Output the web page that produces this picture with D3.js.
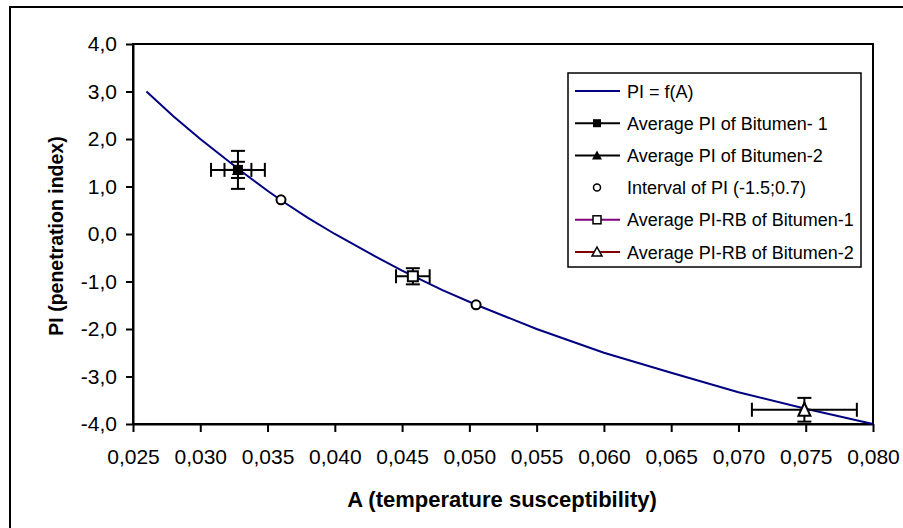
<!DOCTYPE html>
<html><head><meta charset="utf-8">
<script src="https://cdn.jsdelivr.net/npm/d3@7"></script>
<style>
body{margin:0;background:#fff;}
text{font-family:"Liberation Sans",Arial,sans-serif;}
</style></head>
<body><svg id="c" width="903" height="528"></svg>
<script>
// Curve PI = f(A)
const curveA  = [0.026, 0.028, 0.030, 0.033, 0.035, 0.036, 0.038, 0.040, 0.043, 0.045, 0.048, 0.0505, 0.055, 0.060, 0.065, 0.070, 0.075, 0.080];
const curvePI = [3.00, 2.48, 2.00, 1.33, 0.91, 0.71, 0.34, 0.00, -0.47, -0.77, -1.18, -1.49, -2.00, -2.50, -2.92, -3.33, -3.68, -4.00];

// Average PI of Bitumen-1 (filled square) with error bars
const bit1 = {A: 0.0328, PI: 1.35, errA: 0.0020, errPI: 0.40};
// Average PI of Bitumen-2 (filled triangle)
const bit2 = {A: 0.0328, PI: 1.35, errA: 0.0010, errPI: 0.17};
// Interval of PI (-1.5;0.7)
const intervalA  = [0.036, 0.0505];
const intervalPI = [0.72, -1.49];
// Average PI-RB of Bitumen-1 (open square)
const rb1 = {A: 0.0458, PI: -0.89, errA: 0.00125, errPI: 0.17};
// Average PI-RB of Bitumen-2 (open triangle)
const rb2 = {A: 0.0749, PI: -3.70, errA: 0.0039, errPI: 0.25};

const xTicks = [0.025,0.030,0.035,0.040,0.045,0.050,0.055,0.060,0.065,0.070,0.075,0.080];
const yTicks = [-4,-3,-2,-1,0,1,2,3,4];
const legendLabels = ["PI = f(A)","Average PI of Bitumen- 1","Average PI of Bitumen-2","Interval of PI (-1.5;0.7)","Average PI-RB of Bitumen-1","Average PI-RB of Bitumen-2"];

const svg = d3.select("#c");
const L=133, T=44, R=873, B=424;
const x = d3.scaleLinear().domain([0.025,0.080]).range([L,R]);
const y = d3.scaleLinear().domain([-4,4]).range([B,T]);
const fmtX = d => d.toFixed(3).replace(".",",");
const fmtY = d => d.toFixed(1).replace(".",",");

// outer border
svg.append("rect").attr("x",10).attr("y",7).attr("width",920).attr("height",540)
  .attr("fill","none").attr("stroke","#000").attr("stroke-width",2);
// plot frame
svg.append("rect").attr("x",L).attr("y",T).attr("width",R-L).attr("height",B-T)
  .attr("fill","none").attr("stroke","#000").attr("stroke-width",2);

const xAxis = svg.append("g").attr("transform",`translate(0,${B})`)
  .call(d3.axisBottom(x).tickValues(xTicks).tickFormat(fmtX).tickSize(8).tickSizeOuter(0).tickPadding(17));
const yAxis = svg.append("g").attr("transform",`translate(${L},0)`)
  .call(d3.axisLeft(y).tickValues(yTicks).tickFormat(fmtY).tickSize(7).tickSizeOuter(0).tickPadding(9));
[xAxis,yAxis].forEach(g=>{
  g.select(".domain").attr("stroke-width",2);
  g.selectAll(".tick line").attr("stroke-width",2);
  g.selectAll("text").attr("font-size",21).attr("font-family","Liberation Sans, Arial, sans-serif").attr("fill","#000");
});

svg.append("text").attr("x",502).attr("y",507).attr("text-anchor","middle")
  .attr("font-size",22).attr("font-weight","bold").text("A (temperature susceptibility)");
svg.append("text").attr("transform",`translate(63,${(T+B)/2+2}) rotate(-90)`).attr("text-anchor","middle")
  .attr("font-size",19.5).attr("font-weight","bold").text("PI (penetration index)");

// curve
const line = d3.line().x(d=>x(d[0])).y(d=>y(d[1]));
svg.append("path").datum(curveA.map((a,i)=>[a,curvePI[i]])).attr("d",line)
  .attr("fill","none").attr("stroke","#000080").attr("stroke-width",2);

function errBars(p){
  const g = svg.append("g").attr("stroke","#000").attr("stroke-width",2);
  const cx=x(p.A), cy=y(p.PI), c=7;
  const x0=x(p.A-p.errA), x1=x(p.A+p.errA), y0=y(p.PI+p.errPI), y1=y(p.PI-p.errPI);
  g.append("line").attr("x1",x0).attr("x2",x1).attr("y1",cy).attr("y2",cy);
  g.append("line").attr("x1",x0).attr("x2",x0).attr("y1",cy-c).attr("y2",cy+c);
  g.append("line").attr("x1",x1).attr("x2",x1).attr("y1",cy-c).attr("y2",cy+c);
  g.append("line").attr("x1",cx).attr("x2",cx).attr("y1",y0).attr("y2",y1);
  g.append("line").attr("x1",cx-c).attr("x2",cx+c).attr("y1",y0).attr("y2",y0);
  g.append("line").attr("x1",cx-c).attr("x2",cx+c).attr("y1",y1).attr("y2",y1);
}
function marker(g,type,cx,cy){
  const s=10;
  if(type==="fsq") g.append("rect").attr("x",cx-s/2).attr("y",cy-s/2).attr("width",s).attr("height",s).attr("fill","#000");
  if(type==="osq") g.append("rect").attr("x",cx-s/2).attr("y",cy-s/2).attr("width",s).attr("height",s).attr("fill","#fff").attr("stroke","#000").attr("stroke-width",2);
  if(type==="ftri") g.append("path").attr("d",`M${cx},${cy-6}L${cx+6},${cy+5}L${cx-6},${cy+5}Z`).attr("fill","#000");
  if(type==="otri") g.append("path").attr("d",`M${cx},${cy-7}L${cx+6},${cy+6}L${cx-6},${cy+6}Z`).attr("fill","#fff").attr("stroke","#000").attr("stroke-width",2);
  if(type==="ocirc") g.append("circle").attr("cx",cx).attr("cy",cy).attr("r",4.5).attr("fill","#fff").attr("stroke","#000").attr("stroke-width",2);
}
errBars(bit2); errBars(bit1); errBars(rb1); errBars(rb2);
const mg = svg.append("g");
marker(mg,"ftri",x(bit2.A),y(bit2.PI));
marker(mg,"fsq",x(bit1.A),y(bit1.PI));
intervalA.forEach((a,i)=>marker(mg,"ocirc",x(a),y(intervalPI[i])));
marker(mg,"osq",x(rb1.A),y(rb1.PI));
marker(mg,"otri",x(rb2.A),y(rb2.PI));

// legend
const lg = svg.append("g");
lg.append("rect").attr("x",568).attr("y",73).attr("width",293).attr("height",194)
  .attr("fill","#fff").attr("stroke","#000").attr("stroke-width",1.5);
const legendStyles = [
  {col:"#000080",m:null,line:true},
  {col:"#000",m:"fsq",line:true},
  {col:"#000",m:"ftri",line:true},
  {col:"#000",m:"ocirc",line:false},
  {col:"#800080",m:"osq",line:true},
  {col:"#800000",m:"otri",line:true}
];
legendLabels.forEach((lab,i)=>{
  const cy = 91 + i*32.2;
  const st = legendStyles[i];
  if(st.line) lg.append("line").attr("x1",575).attr("x2",620).attr("y1",cy).attr("y2",cy).attr("stroke",st.col).attr("stroke-width",2);
  if(st.m){ const s = st.m; const gg = lg.append("g"); 
    if(s==="fsq") gg.append("rect").attr("x",593).attr("y",cy-4).attr("width",8).attr("height",8).attr("fill","#000");
    else if(s==="osq") gg.append("rect").attr("x",593).attr("y",cy-4).attr("width",8).attr("height",8).attr("fill","#fff").attr("stroke","#000").attr("stroke-width",1.5);
    else if(s==="ftri") gg.append("path").attr("d",`M597,${cy-5}L602,${cy+4}L592,${cy+4}Z`).attr("fill","#000");
    else if(s==="otri") gg.append("path").attr("d",`M597,${cy-5}L602,${cy+4}L592,${cy+4}Z`).attr("fill","#fff").attr("stroke","#000").attr("stroke-width",1.5);
    else if(s==="ocirc") gg.append("circle").attr("cx",597).attr("cy",cy).attr("r",3.5).attr("fill","#fff").attr("stroke","#000").attr("stroke-width",1.5);
  }
  lg.append("text").attr("x",627).attr("y",cy+6.5).attr("font-size",18).text(lab);
});
</script></body></html>
